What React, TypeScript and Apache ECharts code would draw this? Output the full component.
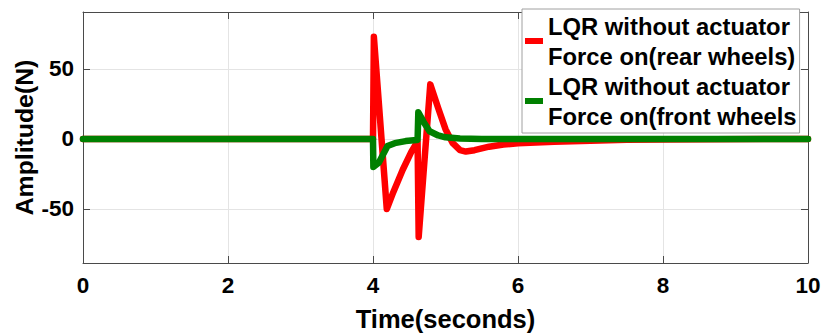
import React, { useEffect, useRef } from 'react';
import * as echarts from 'echarts';

// ---- data ----
const xTicks = [0, 2, 4, 6, 8, 10];
const yTicks = [-50, 0, 50];
const seriesNames = [
  'LQR without actuator Force on(rear wheels)',
  'LQR without actuator Force on(front wheels',
];

const rearTime = [0, 4.0, 4.012, 4.19, 4.28, 4.41, 4.53, 4.6, 4.615, 4.63, 4.79, 4.9, 5.0, 5.1, 5.2, 5.28, 5.4, 5.6, 5.8, 6.0, 6.5, 7.0, 7.5, 8.0, 10];
const rearForce = [0, 0, 73, -50, -38, -22, -9, -3, -2, -70, 39, 22, 7, -3, -8, -9, -8, -5.5, -4, -3, -2, -1.2, -0.6, -0.3, 0];

const frontTime = [0, 4.0, 4.005, 4.08, 4.2, 4.3, 4.45, 4.6, 4.615, 4.625, 4.7, 4.78, 4.9, 5.0, 5.2, 5.5, 10];
const frontForce = [0, 0, -20, -17, -5, -3, -1.5, -0.8, -0.6, 19, 12, 5.5, 2.5, 1.2, 0.4, 0, 0];

const yMin = -88.6;
const yMax = 90.7;
const xMin = 0;
const xMax = 10;

const FONT = '"Liberation Sans", Arial, Helvetica, sans-serif';
const AXIS_COLOR = '#4a4a4a';
const GRID_COLOR = '#e4e4e4';

function pairs(xs: number[], ys: number[]) {
  return xs.map((x, i) => [x, ys[i]]);
}

export default function App() {
  const ref = useRef<HTMLDivElement>(null);

  useEffect(() => {
    if (!ref.current) return;
    const chart = echarts.init(ref.current, undefined, { renderer: 'svg' });
    const tickStyle = { show: true, inside: true, length: 7, lineStyle: { color: AXIS_COLOR, width: 1 } };
    const lineStyle = { show: true, onZero: false, lineStyle: { color: AXIS_COLOR, width: 1 } };
    chart.setOption({
      animation: false,
      backgroundColor: '#ffffff',
      grid: { left: 83, top: 12, right: 15, bottom: 70, containLabel: false, outerBoundsMode: 'none' },
      legend: {
        show: true,
        orient: 'vertical',
        left: 522,
        top: 9,
        padding: [2, 3, 2, 3],
        itemGap: 0,
        itemWidth: 18,
        itemHeight: 6,
        icon: 'rect',
        selectedMode: false,
        backgroundColor: '#ffffff',
        borderColor: '#a0a0a0',
        borderWidth: 1,
        data: seriesNames,
        formatter: (name: string) => name.replace(' Force', '\nForce'),
        textStyle: { fontFamily: FONT, fontSize: 23.8, fontWeight: 'bold', color: '#000', lineHeight: 30 },
      },
      xAxis: [
        {
          type: 'value',
          position: 'bottom',
          min: xMin,
          max: xMax,
          interval: 2,
          axisLine: lineStyle,
          axisTick: tickStyle,
          axisLabel: {
            margin: 11,
            fontFamily: FONT,
            fontSize: 22.5,
            fontWeight: 'bold',
            color: '#000',
            customValues: xTicks,
          },
          splitLine: { show: true, lineStyle: { color: GRID_COLOR, width: 1 } },
          name: 'Time(seconds)',
          nameLocation: 'middle',
          nameGap: 43,
          nameMoveOverlap: false,
          nameTextStyle: { fontFamily: FONT, fontSize: 25.5, fontWeight: 'bold', color: '#000' },
        },
        {
          type: 'value',
          position: 'top',
          min: xMin,
          max: xMax,
          interval: 2,
          axisLine: lineStyle,
          axisTick: tickStyle,
          axisLabel: { show: false },
          splitLine: { show: false },
        },
      ],
      yAxis: [
        {
          type: 'value',
          position: 'left',
          min: yMin,
          max: yMax,
          axisLine: lineStyle,
          axisTick: { ...tickStyle, customValues: yTicks },
          axisLabel: {
            margin: 9,
            fontFamily: FONT,
            fontSize: 22.5,
            fontWeight: 'bold',
            color: '#000',
            customValues: yTicks,
          },
          splitLine: { show: true, lineStyle: { color: GRID_COLOR, width: 1 } },
          name: 'Amplitude(N)',
          nameLocation: 'middle',
          nameGap: 46,
          nameMoveOverlap: false,
          nameTextStyle: { fontFamily: FONT, fontSize: 24.8, fontWeight: 'bold', color: '#000' },
        },
        {
          type: 'value',
          position: 'right',
          min: yMin,
          max: yMax,
          axisLine: lineStyle,
          axisTick: { ...tickStyle, customValues: yTicks },
          axisLabel: { show: false },
          splitLine: { show: false },
        },
      ],
      series: [
        {
          name: seriesNames[0],
          type: 'line',
          xAxisIndex: 0,
          yAxisIndex: 0,
          data: pairs(rearTime, rearForce),
          showSymbol: false,
          symbol: 'none',
          color: '#ff0000',
          lineStyle: { color: '#ff0000', width: 6.5, join: 'round', cap: 'round' },
          z: 2,
        },
        {
          name: seriesNames[1],
          type: 'line',
          xAxisIndex: 0,
          yAxisIndex: 0,
          data: pairs(frontTime, frontForce),
          showSymbol: false,
          symbol: 'none',
          color: '#008000',
          lineStyle: { color: '#008000', width: 6.5, join: 'round', cap: 'round' },
          z: 3,
        },
      ],
    });
    return () => chart.dispose();
  }, []);

  return (
    <div
      ref={ref}
      style={{ position: 'fixed', left: 0, top: 0, width: 823, height: 333, background: '#fff' }}
    />
  );
}
